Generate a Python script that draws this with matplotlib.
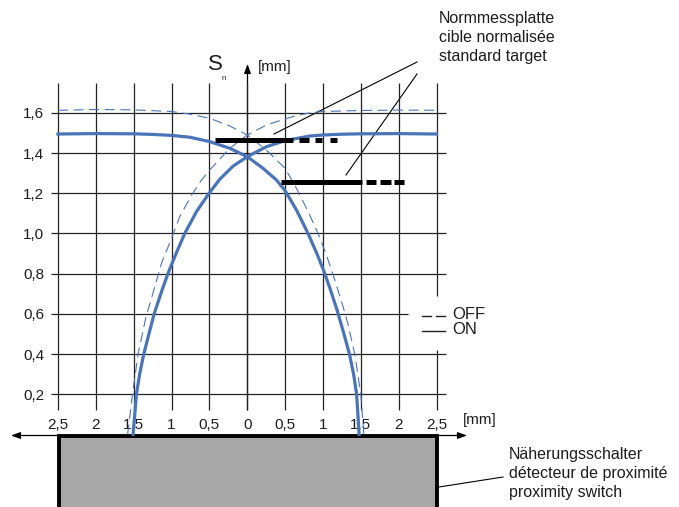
import matplotlib
matplotlib.use('Agg')
import matplotlib.pyplot as plt
from matplotlib.patches import Rectangle

plt.rcParams['font.family'] = ['Liberation Sans', 'DejaVu Sans']

W, H = 679, 507
BLUE = '#4a74b8'
DARK = '#1c1c1c'

# switching curves: x in mm, Sn in mm
on_desc_x = [-2.5, -2.0, -1.5, -1.25, -1.0, -0.76, -0.495, -0.231, 0.0, 0.21, 0.386, 0.495, 0.65, 0.803, 0.914, 1.01, 1.09, 1.186, 1.27, 1.35, 1.405, 1.445, 1.478]
on_desc_y = [1.495, 1.497, 1.496, 1.493, 1.488, 1.479, 1.457, 1.424, 1.382, 1.324, 1.266, 1.216, 1.117, 1.0, 0.905, 0.815, 0.73, 0.62, 0.51, 0.40, 0.30, 0.20, 0.0]
on_asc_x = [-1.508, -1.464, -1.42, -1.367, -1.306, -1.23, -1.12, -1.033, -0.935, -0.826, -0.672, -0.505, -0.363, -0.188, 0.0, 0.254, 0.5, 0.826, 1.0, 1.25, 1.5, 2.0, 2.5]
on_asc_y = [0.0, 0.2, 0.304, 0.4, 0.49, 0.60, 0.725, 0.815, 0.905, 1.0, 1.108, 1.2, 1.27, 1.335, 1.382, 1.432, 1.462, 1.485, 1.49, 1.494, 1.496, 1.497, 1.495]

off_desc_x = [-2.5, -2.0, -1.5, -1.0, -0.76, -0.495, -0.231, 0.0, 0.254, 0.5, 0.65, 0.803, 0.935, 1.046, 1.156, 1.266, 1.33, 1.42, 1.50, 1.54]
off_desc_y = [1.613, 1.617, 1.615, 1.607, 1.594, 1.573, 1.535, 1.49, 1.415, 1.324, 1.225, 1.11, 1.0, 0.893, 0.769, 0.636, 0.55, 0.40, 0.20, 0.0]
off_asc_x = [-1.58, -1.516, -1.442, -1.335, -1.297, -1.133, -1.0, -0.892, -0.737, -0.605, -0.495, -0.231, 0.0, 0.254, 0.5, 0.65, 0.826, 1.0, 1.5, 2.0, 2.5]
off_asc_y = [0.0, 0.20, 0.40, 0.59, 0.636, 0.852, 0.976, 1.084, 1.19, 1.266, 1.316, 1.424, 1.49, 1.54, 1.57, 1.587, 1.6, 1.607, 1.612, 1.614, 1.613]

# target plates: solid stretch then dashed tail
target_y = [1.467, 1.256]
target_solid = [(-0.43, 0.60), (0.44, 1.51)]
target_dash = [[(0.69, 0.81), (0.89, 0.99), (1.09, 1.18)],
               [(1.57, 1.70), (1.76, 1.90), (1.94, 2.07)]]

x_ticks = [-2.5, -2, -1.5, -1, -0.5, 0, 0.5, 1, 1.5, 2, 2.5]
x_labels = ['2,5', '2', '1,5', '1', '0,5', '0', '0,5', '1', '1,5', '2', '2,5']
y_ticks = [0.2, 0.4, 0.6, 0.8, 1.0, 1.2, 1.4, 1.6]
y_labels = ['0,2', '0,4', '0,6', '0,8', '1,0', '1,2', '1,4', '1,6']

fig = plt.figure(figsize=(W / 100, H / 100), dpi=100)

# overlay in pixels for the drawing furniture (labels, leaders, switch body)
px = fig.add_axes([0, 0, 1, 1])
px.set_xlim(0, W)
px.set_ylim(H, 0)
px.axis('off')

left, right, base, top = 58, 436.5, 434.5, 72.7
ax = fig.add_axes([left / W, 1 - base / H, (right - left) / W, (base - top) / H])
ax.set_xlim(-2.5, 2.5)
ax.set_ylim(0, 1.8)
ax.patch.set_alpha(0)
for s in ax.spines.values():
    s.set_visible(False)
ax.set_xticks(x_ticks, x_labels, fontsize=11, color=DARK)
ax.set_yticks(y_ticks, y_labels, fontsize=11, color=DARK)
ax.tick_params(length=0)
ax.tick_params(axis='x', pad=-7)
ax.tick_params(axis='y', pad=10)
for t in ax.get_xticklabels():
    t.set_verticalalignment('center')

# grid by hand, the lines overshoot the plot area and stop around the legend
grid = dict(color='#222222', lw=0.9, clip_on=False, zorder=1)
for yv in y_ticks:
    ax.hlines(yv, -2.59, 2.12 if yv == 0.6 else 2.63, **grid)
for xv in x_ticks:
    if xv == 2.5:
        ax.vlines(xv, 0.69, 1.749, **grid)
        ax.vlines(xv, 0.122, 0.42, **grid)
    else:
        ax.vlines(xv, 0.122, 1.749, **grid)

ax.plot(off_desc_x, off_desc_y, color=BLUE, lw=0.8, dashes=(9, 5), clip_on=False, zorder=3)
ax.plot(off_asc_x, off_asc_y, color=BLUE, lw=0.8, dashes=(9, 5), clip_on=False, zorder=3)
ax.plot(on_desc_x, on_desc_y, color=BLUE, lw=2.3, clip_on=False, zorder=4)
ax.plot(on_asc_x, on_asc_y, color=BLUE, lw=2.3, clip_on=False, zorder=4)

for yv, solid, dashes in zip(target_y, target_solid, target_dash):
    ax.plot(solid, [yv, yv], color='black', lw=3.6, solid_capstyle='butt', zorder=5)
    for d in dashes:
        ax.plot(d, [yv, yv], color='black', lw=3.6, solid_capstyle='butt', zorder=5)

# switch body and axes arrows
px.add_patch(Rectangle((59.2, 436), 377.5, 80, facecolor='#a8a8a8', edgecolor='black', lw=2.8, zorder=6))
arrow = dict(arrowstyle='-|>,head_length=0.55,head_width=0.2', color='black', lw=0.9, shrinkA=0, shrinkB=0)
px.annotate('', xy=(11, 435.5), xytext=(60, 435.5), arrowprops=arrow, zorder=7)
px.annotate('', xy=(467, 435.5), xytext=(436, 435.5), arrowprops=arrow, zorder=7)
px.annotate('', xy=(247.5, 64), xytext=(247.5, 410), arrowprops=arrow, zorder=7)

# leaders
for xs, ys in [((274, 417), (134, 62)), ((346, 417), (175, 74)), ((439, 503), (487, 477))]:
    px.plot(xs, ys, color='black', lw=0.8, zorder=7)

# legend
px.plot((422, 431), (315.7, 315.7), color='#222222', lw=1.0)
px.plot((436, 445), (315.7, 315.7), color='#222222', lw=1.0)
px.plot((422, 445), (331, 331), color='#222222', lw=1.0)
px.text(452, 314.5, 'OFF', fontsize=12, color=DARK, va='center')
px.text(452, 330, 'ON', fontsize=12, color=DARK, va='center')

px.text(215, 65, 'S', fontsize=16, color=DARK, ha='center', va='center')
px.text(224, 79, 'n', fontsize=5.5, color=DARK, ha='center', va='center')
px.text(258, 67, '[mm]', fontsize=11, color=DARK, va='center')
px.text(463, 420, '[mm]', fontsize=11, color=DARK, va='center')

for yp, s in zip((18, 37, 56), ('Normmessplatte', 'cible normalisée', 'standard target')):
    px.text(439, yp, s, fontsize=11.5, color=DARK, va='center')
for yp, s in zip((454.5, 473.5, 492.5), ('Näherungsschalter', 'détecteur de proximité', 'proximity switch')):
    px.text(509, yp, s, fontsize=11.5, color=DARK, va='center')

fig.savefig('out.png', dpi=100)
